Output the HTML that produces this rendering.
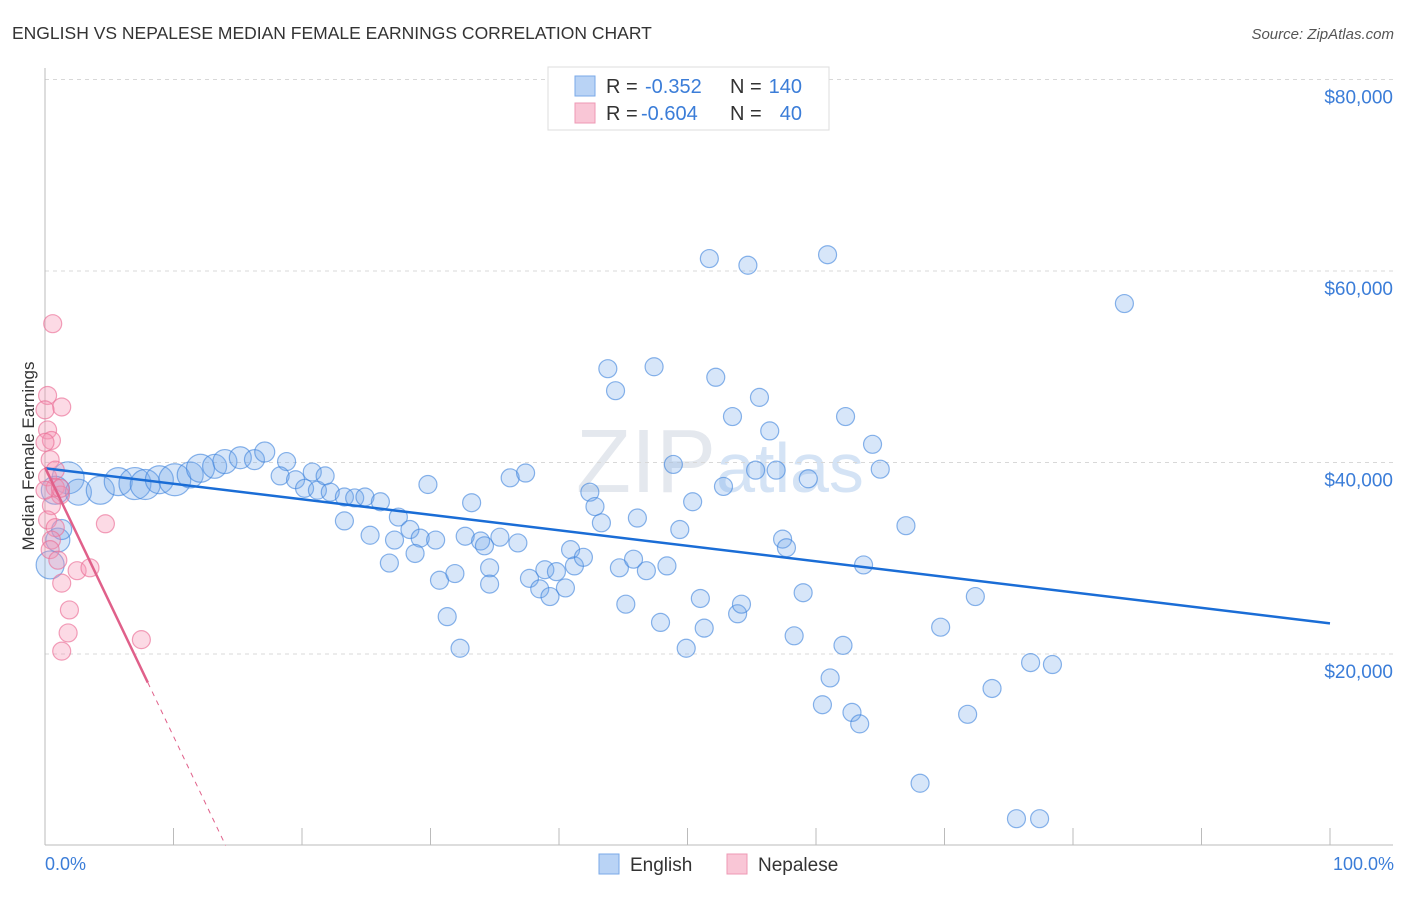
<!DOCTYPE html>
<html><head><meta charset="utf-8"><style>
body{margin:0;background:#fff;font-family:"Liberation Sans",sans-serif;}
svg text{font-family:"Liberation Sans",sans-serif;}
</style></head><body>
<svg id="chart" width="1406" height="892" xmlns="http://www.w3.org/2000/svg">
<text x="12" y="39" font-size="17.5" fill="#333">ENGLISH VS NEPALESE MEDIAN FEMALE EARNINGS CORRELATION CHART</text>
<text x="1394" y="39" font-size="15" fill="#555" font-style="italic" text-anchor="end">Source: ZipAtlas.com</text>
<text x="720" y="492" font-size="90" fill="#e4e8ee" text-anchor="middle" font-family="Liberation Serif">ZIP<tspan font-family="Liberation Sans" font-size="70" fill="#d4e3f5">atlas</tspan></text>
<g id="grid"></g><g id="axes"></g><g id="pts"></g><g id="lines"></g>
<text transform="translate(34,456) rotate(-90)" font-size="17" fill="#333" text-anchor="middle">Median Female Earnings</text>
<text x="45" y="870" font-size="18" fill="#3b7dd8">0.0%</text>
<text x="1394" y="870" font-size="18" fill="#3b7dd8" text-anchor="end">100.0%</text>
<g>
<rect x="548" y="67" width="281" height="63" fill="#fff" stroke="#ddd"/>
<rect x="575" y="76" width="20" height="20" fill="#b9d3f5" stroke="#7aaae8"/>
<rect x="575" y="103" width="20" height="20" fill="#f9c6d6" stroke="#ee98b4"/>
<text x="606" y="93" font-size="20" fill="#333">R =</text>
<text x="645" y="93" font-size="20" fill="#3b7dd8">-0.352</text>
<text x="730" y="93" font-size="20" fill="#333">N =</text>
<text x="802" y="93" font-size="20" fill="#3b7dd8" text-anchor="end">140</text>
<text x="606" y="120" font-size="20" fill="#333">R =</text>
<text x="641" y="120" font-size="20" fill="#3b7dd8">-0.604</text>
<text x="730" y="120" font-size="20" fill="#333">N =</text>
<text x="802" y="120" font-size="20" fill="#3b7dd8" text-anchor="end">40</text>
</g>
<g><rect x="599" y="854" width="20" height="20" fill="#b9d3f5" stroke="#7aaae8"/><text x="630" y="871" font-size="19" fill="#333">English</text></g>
<g><rect x="727" y="854" width="20" height="20" fill="#f9c6d6" stroke="#ee98b4"/><text x="758" y="871" font-size="19" fill="#333">Nepalese</text></g>
</svg>
<script>
const yTicks=[20000,40000,60000,80000];
const yTickLabels=["$20,000","$40,000","$60,000","$80,000"];
const xTicks=[0,10,20,30,40,50,60,70,80,90,100];
const englishX=[1.8,0.8,2.6,4.3,5.7,7.0,7.8,8.9,10.1,11.3,12.1,13.2,14.0,15.2,16.3,17.1,18.8,18.3,19.5,20.2,21.2,20.8,21.8,22.2,23.3,24.1,24.9,26.1,27.5,28.4,29.2,30.4,23.3,25.3,26.8,27.2,28.8,29.8,32.7,33.2,33.9,34.2,34.6,35.4,36.2,37.4,36.8,30.7,31.9,31.3,32.3,34.6,37.7,38.5,38.9,39.3,39.8,40.5,40.9,41.2,41.9,42.4,42.8,43.3,43.8,44.4,44.7,45.2,45.8,46.1,46.8,47.4,47.9,48.4,48.9,49.4,49.9,50.4,51.0,51.3,51.7,52.2,52.8,53.5,53.9,54.2,54.7,55.3,55.6,56.4,56.9,57.4,57.7,58.3,59.0,59.4,60.5,60.9,61.1,62.1,62.3,62.8,63.4,63.7,64.4,65.0,67.0,68.1,69.7,71.8,72.4,73.7,75.6,76.7,77.4,78.4,84.0,0.4,1.0,1.3];
const englishY=[38.4,37.1,36.9,37.1,38.0,37.8,37.7,38.2,38.2,38.7,39.4,39.6,40.1,40.5,40.3,41.1,40.1,38.6,38.2,37.3,37.1,39.0,38.6,36.9,36.4,36.3,36.4,35.9,34.3,33.0,32.1,31.9,33.9,32.4,29.5,31.9,30.5,37.7,32.3,35.8,31.8,31.3,29.0,32.2,38.4,38.9,31.6,27.7,28.4,23.9,20.6,27.3,27.9,26.8,28.8,26.0,28.6,26.9,30.9,29.2,30.1,36.9,35.4,33.7,49.8,47.5,29.0,25.2,29.9,34.2,28.7,50.0,23.3,29.2,39.8,33.0,20.6,35.9,25.8,22.7,61.3,48.9,37.5,44.8,24.2,25.2,60.6,39.2,46.8,43.3,39.2,32.0,31.1,21.9,26.4,38.3,14.7,61.7,17.5,20.9,44.8,13.9,12.7,29.3,41.9,39.3,33.4,6.5,22.8,13.7,26.0,16.4,2.8,19.1,2.8,18.9,56.6,29.3,31.9,33.0];
const englishSize=[16,14,13,14,14,16,15,14,16,13,14,12,12,11,10,10,9,9,9,9,9,9,9,9,9,9,9,9,9,9,9,9,9,9,9,9,9,9,9,9,9,9,9,9,9,9,9,9,9,9,9,9,9,9,9,9,9,9,9,9,9,9,9,9,9,9,9,9,9,9,9,9,9,9,9,9,9,9,9,9,9,9,9,9,9,9,9,9,9,9,9,9,9,9,9,9,9,9,9,9,9,9,9,9,9,9,9,9,9,9,9,9,9,9,9,9,9,14,12,10];
const nepaleseX=[0.6,0.2,1.3,0.2,0.5,0.0,0.4,0.2,0.8,1.2,0.5,0.2,0.8,0.5,0.4,1.0,1.3,1.9,1.8,1.3,2.5,3.5,4.7,7.5,0.0,0.8,0.0,1.2];
const nepaleseY=[54.5,47.0,45.8,43.4,42.3,42.1,40.3,38.5,37.4,36.6,35.5,34.0,33.2,31.9,30.9,29.8,27.4,24.6,22.2,20.3,28.7,29.0,33.6,21.5,45.5,39.2,37.1,37.3];
const englishTrend=[39.4,23.2];
const nepaleseTrend=[39.5,-2.81];
const NS="http://www.w3.org/2000/svg";
const X=p=>45+p*12.85, Y=k=>845.5-k*9.575;
function mk(parent,tag,attrs){const e=document.createElementNS(NS,tag);for(const k in attrs)e.setAttribute(k,attrs[k]);document.getElementById(parent).appendChild(e);return e;}
yTicks.forEach((v,i)=>{
 const g=mk('grid','line',{x1:45,x2:1393,y1:Y(v/1000),y2:Y(v/1000),stroke:'#d8d8d8','stroke-dasharray':'4,4'});
 
 
 const t=mk('grid','text',{x:1393,y:Y(v/1000)+24,'font-size':19,fill:'#3b7dd8','text-anchor':'end'});
 t.textContent=yTickLabels[i];
 
 
});
mk('axes','line',{x1:45,x2:45,y1:68,y2:845,stroke:'#bbb'});
mk('axes','line',{x1:45,x2:1393,y1:845,y2:845,stroke:'#bbb'});
xTicks.forEach(p=>{const l=mk('axes','line',{x1:X(p),x2:X(p),y1:828,y2:845,stroke:'#bbb'});
 
 });
englishX.forEach((x,i)=>{const c=mk('pts','circle',{cx:X(x),cy:Y(englishY[i]),r:englishSize[i],fill:'rgba(110,165,235,0.28)',stroke:'rgba(60,130,220,0.6)','stroke-width':1.2});
 
 });
nepaleseX.forEach((x,i)=>{const c=mk('pts','circle',{cx:X(x),cy:Y(nepaleseY[i]),r:9,fill:'rgba(245,150,180,0.35)',stroke:'rgba(235,110,150,0.65)','stroke-width':1.2});
 
 });
const bl=mk('lines','line',{x1:X(0),y1:Y(englishTrend[0]),x2:X(100),y2:Y(englishTrend[1]),stroke:'#1a6dd6','stroke-width':2.5});


const pe=8, pz=-nepaleseTrend[0]/nepaleseTrend[1];
const pl=mk('lines','line',{x1:X(0),y1:Y(nepaleseTrend[0]),x2:X(pe),y2:Y(nepaleseTrend[0]+nepaleseTrend[1]*pe),stroke:'#e0608a','stroke-width':2.5});


const pd=mk('lines','line',{x1:X(pe),y1:Y(nepaleseTrend[0]+nepaleseTrend[1]*pe),x2:X(pz),y2:Y(0),stroke:'#e0608a','stroke-width':1,'stroke-dasharray':'5,5'});


</script>
</body></html>
